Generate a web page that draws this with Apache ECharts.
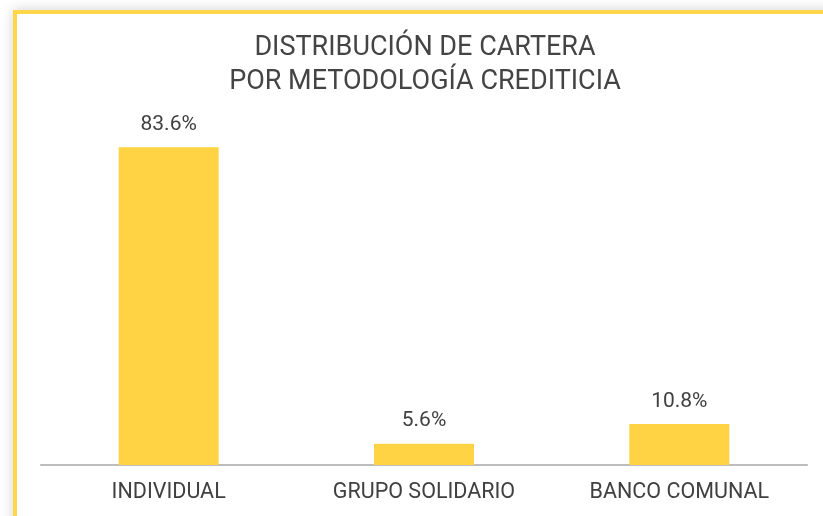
<!DOCTYPE html>
<html>
<head>
<meta charset="utf-8">
<script src="https://cdn.jsdelivr.net/npm/echarts@6/dist/echarts.min.js"></script>
<style>
    html, body { margin: 0; padding: 0; background: #fff; overflow: hidden; }
    #card {
        position: absolute; left: 13px; top: 10px; width: 840px; height: 540px;
        border-left: 4px solid #ffd54a; border-top: 4px solid #ffd54a;
        background: #fff; box-shadow: 0 0 12px rgba(0,0,0,0.18);
    }
    #container_chart { position: absolute; left: 0; top: 0; width: 823px; height: 516px; }
</style>
</head>
<body>
<div id="card"></div>
<div id="container_chart"></div>
<script>
    // Chart data
    var categories = ['INDIVIDUAL', 'GRUPO SOLIDARIO', 'BANCO COMUNAL'];
    var shares = [83.6, 5.6, 10.8];

    var chart = echarts.init(document.getElementById('container_chart'));

    var option = {
        backgroundColor: 'transparent',
        title: {
            text: 'DISTRIBUCIÓN DE CARTERA\nPOR METODOLOGÍA CREDITICIA',
            left: 420,
            top: 26,
            textAlign: 'center',
            textStyle: {
                fontFamily: 'Roboto',
                fontWeight: 'normal',
                fontSize: 27,
                lineHeight: 34,
                color: '#444'
            }
        },
        grid: {
            left: 41,
            right: 16,
            top: 85,
            bottom: 51,
            containLabel: false
        },
        xAxis: {
            type: 'category',
            data: categories,
            axisLine: { lineStyle: { color: '#bdbdbd', width: 2 } },
            axisTick: { show: false },
            axisLabel: {
                fontFamily: 'Roboto',
                fontSize: 21.5,
                color: '#404040',
                margin: 17
            }
        },
        yAxis: {
            type: 'value',
            min: 0,
            max: 100,
            show: false,
            splitLine: { show: false }
        },
        series: [
            {
                type: 'bar',
                data: shares,
                barWidth: 100,
                itemStyle: { color: '#ffd343' },
                label: {
                    show: true,
                    position: 'top',
                    distance: 12,
                    fontFamily: 'Roboto',
                    fontSize: 21,
                    color: '#404040',
                    formatter: function (p) { return p.value.toFixed(1) + '%'; }
                }
            }
        ]
    };

    chart.setOption(option);
</script>
</body>
</html>
